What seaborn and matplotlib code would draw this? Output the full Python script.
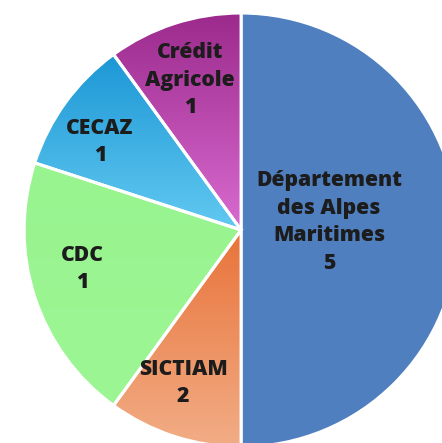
import numpy as np
import seaborn as sns
import matplotlib.pyplot as plt
from matplotlib.colors import LinearSegmentedColormap

# données (ordre horaire depuis le haut)
noms = ["Département\ndes Alpes\nMaritimes", "SICTIAM", "CDC", "CECAZ", "Crédit\nAgricole"]
parts = [5, 1, 2, 1, 1]          # taille des secteurs dessinés
nombres = [5, 2, 1, 1, 1]        # nombres affichés sur l'image

# couleurs (haut -> bas du dégradé)
couleurs = [("#4f7fbe", "#4f7fbe"),
            ("#e8733a", "#f2ad86"),
            ("#98f48f", "#9cf694"),
            ("#1c97d5", "#62c9f1"),
            ("#9c2a8d", "#d96bd0")]

# position des étiquettes
pos_labels = [(0.406, 0.037), (-0.267, -0.705), (-0.733, -0.180), (-0.650, 0.406), (-0.235, 0.691)]

sns.set_theme(style="white")
plt.rcParams['font.family'] = ['Open Sans', 'DejaVu Sans']

fig = plt.figure(figsize=(4.42, 4.43), dpi=100)
ax = fig.add_axes([0, 0, 1, 1])

wedges, _ = ax.pie(parts, startangle=90, counterclock=False, radius=1,
                   colors=[c[0] for c in couleurs],
                   wedgeprops=dict(edgecolor="white", linewidth=2.2))

# dégradé vertical dans chaque secteur
for w, (c_haut, c_bas) in zip(wedges, couleurs):
    if c_haut == c_bas:
        continue
    bb = w.get_path().get_extents(w.get_patch_transform())
    cmap = LinearSegmentedColormap.from_list("g", [c_haut, c_bas])
    grad = np.linspace(0, 1, 256).reshape(-1, 1)
    im = ax.imshow(grad, cmap=cmap, aspect="auto",
                   extent=[bb.x0, bb.x1, bb.y0, bb.y1], origin="upper", zorder=w.get_zorder())
    im.set_clip_path(w)
    # redessiner le bord blanc au-dessus
    w.set_zorder(w.get_zorder() + 0.5)
    w.set_facecolor("none")

for nom, n, (x, y) in zip(noms, nombres, pos_labels):
    ax.text(x, y, f"{nom}\n{n}", ha="center", va="center", fontsize=15.2,
            fontweight="heavy", color="#1c1c1c", linespacing=1.42, zorder=10)

ax.set_xlim(-1.111, 0.926)
ax.set_ylim(-0.982, 1.060)
ax.set_aspect("equal")
ax.axis("off")

fig.savefig("out.png", dpi=100, facecolor="white")
